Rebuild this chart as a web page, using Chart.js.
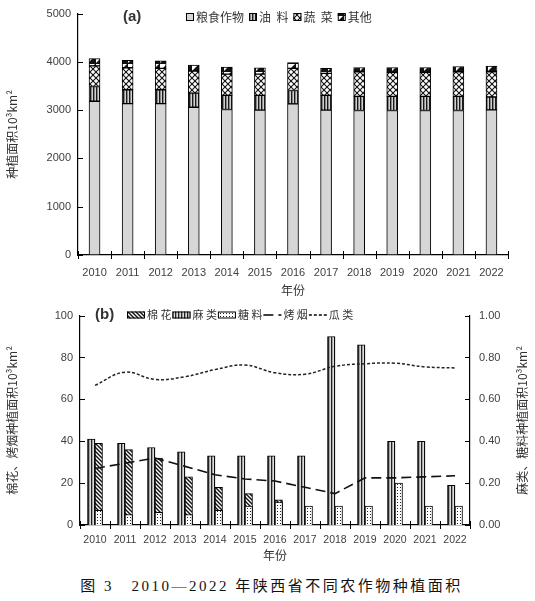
<!doctype html>
<html lang="zh">
  <head>
    <meta charset="utf-8">
    <title>2010—2022年陕西省不同农作物种植面积</title>
    <style>
      * { margin: 0; padding: 0; }
      body { width: 535px; height: 601px; background: #fff; position: relative; overflow: hidden; }
      #chartA { position: absolute; left: 0; top: 0; }
      #chartB { position: absolute; left: 0; top: 300px; }
      .caption {
        position: absolute; left: 8px; top: 574px; width: 527px; line-height: 18px;
        text-align: center; color: #111; letter-spacing: 2.5px;
        font: 15px "Liberation Serif", "Noto Sans CJK SC", serif;
      }
    </style>
  </head>
  <body>
    <canvas id="chartA" width="535" height="300"></canvas>
    <canvas id="chartB" width="535" height="265"></canvas>
    <div class="caption">图 3　2010—2022 年陕西省不同农作物种植面积</div>
    <script src="https://cdn.jsdelivr.net/npm/chart.js/dist/chart.umd.min.js"></script>
    <script>
      // data
      const years = ['2010', '2011', '2012', '2013', '2014', '2015', '2016', '2017', '2018', '2019', '2020', '2021', '2022'];

      // (a) 10^3 km2
      const grainArea = [3184, 3136, 3136, 3061, 3014, 3000, 3129, 3000, 2993, 2993, 2993, 2993, 3007];
      const oilArea   = [306, 286, 286, 293, 292, 306, 279, 306, 293, 293, 293, 293, 265];
      const vegArea   = [428, 456, 442, 456, 442, 442, 456, 456, 510, 496, 496, 510, 524];
      const otherArea = [150, 156, 156, 122, 143, 130, 122, 102, 88, 102, 102, 109, 116];
      const ticksA = [0, 1000, 2000, 3000, 4000, 5000];

      // (b) left axis
      const cottonArea  = [39, 36, 32, 23, 18, 15, 12, 0, 0, 0, 0, 0, 0];
      const tobaccoArea = [27, 29.5, 32, 28, 24, 22, 21, 18, 15, 22.5, 22.5, 23, 23.5];
      const melonArea   = [66.7, 73, 69.5, 70.8, 74.2, 76.4, 72.7, 72, 75.8, 77, 77.3, 75.5, 75];
      // (b) right axis
      const hempArea  = [0.41, 0.39, 0.37, 0.35, 0.33, 0.33, 0.33, 0.33, 0.90, 0.86, 0.40, 0.40, 0.19];
      const sugarArea = [0.07, 0.05, 0.06, 0.05, 0.07, 0.09, 0.11, 0.09, 0.09, 0.09, 0.20, 0.09, 0.09];
      const ticksLeftB = [0, 20, 40, 60, 80, 100];
      const ticksRightB = [0, 0.2, 0.4, 0.6, 0.8, 1.0];

      Chart.defaults.font.family = '"Liberation Sans", sans-serif';
      Chart.defaults.color = '#404040';

      function pattern(w, h, paint) {
        const c = document.createElement('canvas');
        c.width = w; c.height = h;
        const g = c.getContext('2d');
        paint(g, w, h);
        return g.createPattern(c, 'repeat');
      }
      function seg(g, x1, y1, x2, y2) {
        g.beginPath(); g.moveTo(x1, y1); g.lineTo(x2, y2); g.stroke();
      }

      const fills = {
        grain: '#d6d6d6',
        oil: pattern(3, 3, (g) => {
          g.fillStyle = '#d0d0d0'; g.fillRect(0, 0, 3, 3);
          g.fillStyle = '#1a1a1a'; g.fillRect(0, 0, 1.4, 3);
        }),
        veg: pattern(6, 6, (g) => {
          g.fillStyle = '#fff'; g.fillRect(0, 0, 6, 6);
          g.strokeStyle = '#111'; g.lineWidth = 1.1;
          seg(g, 0, 0, 6, 6); seg(g, 6, 0, 0, 6);
        }),
        other: pattern(8, 8, (g) => {
          g.fillStyle = '#111'; g.fillRect(0, 0, 8, 8);
          g.fillStyle = '#fff';
          g.beginPath(); g.moveTo(0, 0); g.lineTo(7, 0); g.lineTo(0, 7); g.closePath(); g.fill();
        }),
        cotton: pattern(4, 4, (g) => {
          g.fillStyle = '#fff'; g.fillRect(0, 0, 4, 4);
          g.strokeStyle = '#111'; g.lineWidth = 1.4;
          seg(g, 0, 0, 4, 4); seg(g, -1, 3, 1, 5); seg(g, 3, -1, 5, 1);
        }),
        hemp: pattern(3, 3, (g) => {
          g.fillStyle = '#dcdcdc'; g.fillRect(0, 0, 3, 3);
          g.fillStyle = '#222'; g.fillRect(1, 0, 1.3, 3);
        }),
        sugar: pattern(3, 3, (g) => {
          g.fillStyle = '#fff'; g.fillRect(0, 0, 3, 3);
          g.fillStyle = '#222'; g.fillRect(1, 1, 1, 1);
        })
      };

      // tick marks: y inside, x crossing the axis at category edges
      const axisMarks = {
        id: 'axisMarks',
        afterDraw(chart) {
          const { ctx, scales } = chart;
          ctx.save();
          ctx.strokeStyle = '#000';
          ctx.lineWidth = 1;
          Object.values(scales).forEach((s) => {
            if (s.isHorizontal()) {
              const n = s.ticks.length;
              for (let i = 0; i <= n; i++) {
                const x = Math.round(s.left + i * s.width / n) + 0.5;
                seg(ctx, x, s.top - 4, x, s.top + 4);
              }
            } else {
              s.ticks.forEach((t) => {
                const y = Math.round(s.getPixelForValue(t.value)) + 0.5;
                if (s.position === 'left') seg(ctx, s.right, y, s.right + 5, y);
                else seg(ctx, s.left - 5, y, s.left, y);
              });
            }
          });
          ctx.restore();
        }
      };

      const patternLegend = {
        id: 'patternLegend',
        afterDraw(chart, args, opts) {
          const { ctx } = chart;
          const y = opts.y;
          ctx.save();
          ctx.textBaseline = 'middle';
          ctx.fillStyle = '#333';
          ctx.font = 'bold 15px "Liberation Sans", sans-serif';
          ctx.fillText(opts.tag, opts.tagX, y);
          ctx.font = opts.fontSize + 'px "Noto Sans CJK SC", sans-serif';
          let x = opts.x;
          opts.order.forEach((i) => {
            const ds = chart.data.datasets[i];
            ctx.strokeStyle = '#000';
            if (ds.type === 'line') {
              ctx.lineWidth = ds.borderWidth;
              ctx.setLineDash(ds.borderDash);
              seg(ctx, x, y, x + opts.boxW, y);
              ctx.setLineDash([]);
            } else {
              ctx.fillStyle = ds.backgroundColor;
              ctx.lineWidth = 1;
              ctx.fillRect(x, y - opts.boxH / 2, opts.boxW, opts.boxH);
              ctx.strokeRect(x + 0.5, y - opts.boxH / 2 + 0.5, opts.boxW - 1, opts.boxH - 1);
            }
            x += opts.boxW + 2;
            ctx.fillStyle = '#333';
            ctx.fillText(ds.label, x, y);
            x += ctx.measureText(ds.label).width + opts.gap;
          });
          if (opts.rightTitle) {
            const s = chart.scales.y1;
            ctx.font = '12px "Noto Sans CJK SC", sans-serif';
            ctx.textAlign = 'center';
            ctx.translate(opts.rightTitleX, (s.top + s.bottom) / 2);
            ctx.rotate(-Math.PI / 2);
            ctx.fillText(opts.rightTitle, 0, 0);
          }
          ctx.restore();
        }
      };

      const tickFont = { family: '"Liberation Sans", sans-serif', size: 11 };
      const titleFont = { family: '"Noto Sans CJK SC", sans-serif', size: 12 };
      const axisBorder = { display: true, color: '#000', width: 1.2 };
      const noGrid = { display: false, drawTicks: false };

      // (a)
      new Chart(document.getElementById('chartA'), {
        type: 'bar',
        data: {
          labels: years,
          datasets: [
            { label: '粮食作物', data: grainArea, backgroundColor: fills.grain },
            { label: '油  料', data: oilArea, backgroundColor: fills.oil },
            { label: '蔬  菜', data: vegArea, backgroundColor: fills.veg },
            { label: '其他', data: otherArea, backgroundColor: fills.other }
          ].map((d) => Object.assign(d, { borderColor: '#000', borderWidth: 1, borderSkipped: false, barThickness: 11 }))
        },
        options: {
          responsive: false,
          animation: false,
          layout: { padding: { top: 12, right: 27, left: 0, bottom: 0 } },
          plugins: {
            legend: { display: false },
            tooltip: { enabled: false },
            patternLegend: { tag: '(a)', tagX: 123, x: 186, y: 17, fontSize: 12, boxW: 8, boxH: 8, gap: 5, order: [0, 1, 2, 3] }
          },
          scales: {
            x: {
              stacked: true,
              grid: noGrid,
              border: axisBorder,
              ticks: { font: tickFont, padding: 11, maxRotation: 0, minRotation: 0, autoSkip: false },
              title: { display: true, text: '年份', color: '#333', font: titleFont, padding: { top: 0, bottom: 2 } },
              afterFit: (s) => { s.height = 45; }
            },
            y: {
              stacked: true,
              min: 0,
              max: 5000,
              grid: noGrid,
              border: axisBorder,
              afterBuildTicks: (s) => { s.ticks = ticksA.map((v) => ({ value: v })); },
              ticks: { font: tickFont, padding: 7, callback: (v) => String(v) },
              title: { display: true, text: '种植面积10³km²', color: '#333', font: titleFont, padding: { top: 5, bottom: 5 } },
              afterFit: (s) => { s.width = 78; }
            }
          }
        },
        plugins: [axisMarks, patternLegend]
      });

      // (b)
      const barB = { borderColor: '#000', borderWidth: 1, barThickness: 7.5 };
      new Chart(document.getElementById('chartB'), {
        type: 'bar',
        data: {
          labels: years,
          datasets: [
            Object.assign({ label: '麻 类', data: hempArea, backgroundColor: fills.hemp, yAxisID: 'y1', stack: 'hemp' }, barB),
            Object.assign({ label: '糖 料', data: sugarArea, backgroundColor: fills.sugar, yAxisID: 'y1', stack: 'cs' }, barB),
            Object.assign({ label: '棉 花', data: cottonArea, backgroundColor: fills.cotton, yAxisID: 'y', stack: 'cs' }, barB),
            { type: 'line', label: '烤 烟', data: tobaccoArea, yAxisID: 'y', borderColor: '#111', borderWidth: 1.6,
              borderDash: [10, 5], pointRadius: 0, tension: 0, order: -1 },
            { type: 'line', label: '瓜 类', data: melonArea, yAxisID: 'y', borderColor: '#222', borderWidth: 1.5,
              borderDash: [3, 2], pointRadius: 0, tension: 0.4, order: -1 }
          ]
        },
        options: {
          responsive: false,
          animation: false,
          layout: { padding: { top: 12, right: 0, left: 0, bottom: 0 } },
          plugins: {
            legend: { display: false },
            tooltip: { enabled: false },
            patternLegend: {
              tag: '(b)', tagX: 95, x: 127, y: 15, fontSize: 11, boxW: 18, boxH: 7, gap: 1, order: [2, 0, 1, 3, 4],
              rightTitle: '麻类、糖料种植面积10³km²', rightTitleX: 522
            }
          },
          scales: {
            x: {
              grid: noGrid,
              border: axisBorder,
              ticks: { font: { family: '"Liberation Sans", sans-serif', size: 10.5 }, padding: 9, maxRotation: 0, minRotation: 0, autoSkip: false },
              title: { display: true, text: '年份', color: '#333', font: titleFont, padding: { top: 0, bottom: 2 } },
              afterFit: (s) => { s.height = 40; }
            },
            y: {
              position: 'left',
              min: 0,
              max: 100,
              grid: noGrid,
              border: axisBorder,
              afterBuildTicks: (s) => { s.ticks = ticksLeftB.map((v) => ({ value: v })); },
              ticks: { font: tickFont, padding: 7 },
              title: { display: true, text: '棉花、烤烟种植面积10³km²', color: '#333', font: titleFont, padding: { top: 5, bottom: 5 } },
              afterFit: (s) => { s.width = 80; }
            },
            y1: {
              position: 'right',
              min: 0,
              max: 1,
              grid: noGrid,
              border: axisBorder,
              afterBuildTicks: (s) => { s.ticks = ticksRightB.map((v) => ({ value: v })); },
              ticks: { font: tickFont, padding: 9, callback: (v) => Number(v).toFixed(2) },
              afterFit: (s) => { s.width = 65; }
            }
          }
        },
        plugins: [axisMarks, patternLegend]
      });
    </script>
  </body>
</html>
